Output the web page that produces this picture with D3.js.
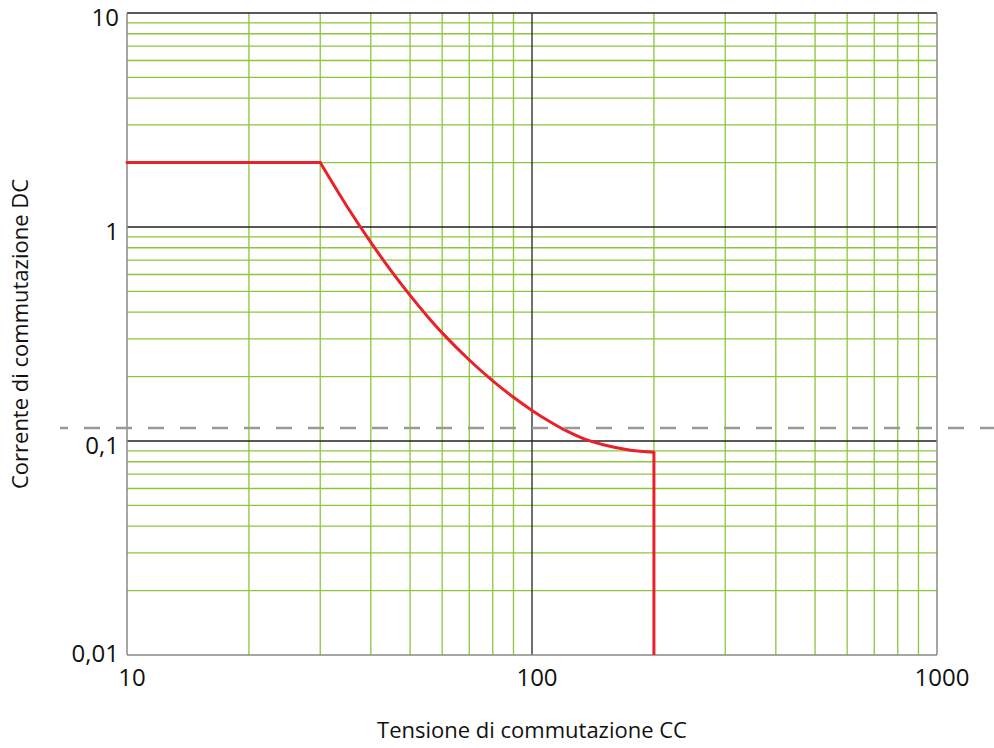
<!DOCTYPE html>
<html>
<head>
<meta charset="utf-8">
<script src="https://cdn.jsdelivr.net/npm/d3@7"></script>
<style>
  body { margin: 0; background: #fff; }
  text { font-family: "Open Sans", sans-serif; fill: #111; }
</style>
</head>
<body>
<script>
// data
var voltage = [10, 30, 35, 40, 45, 50, 55, 60, 70, 80, 90, 100, 110, 120, 135, 150, 175, 200, 200];
var current = [2, 2, 1.24, 0.847, 0.62, 0.479, 0.385, 0.32, 0.239, 0.191, 0.16, 0.139, 0.124, 0.113, 0.102, 0.096, 0.0905, 0.0885, 0.01];
var xDecades = [10, 100, 1000];
var xTickLabels = ["10", "100", "1000"];
var yDecades = [0.01, 0.1, 1, 10];
var yTickLabels = ["0,01", "0,1", "1", "10"];
var threshold = 0.115;

// dimensions and margins
var margin = {top: 13, right: 57, bottom: 93, left: 127},
    W = 994, H = 748,
    width = W - margin.left - margin.right,
    height = H - margin.top - margin.bottom;

var svgRoot = d3.select("body").append("svg")
    .attr("width", W)
    .attr("height", H);

var svg = svgRoot.append("g")
    .attr("transform", "translate(" + margin.left + "," + margin.top + ")");

var x = d3.scaleLog().domain([10, 1000]).range([0, width]);
var y = d3.scaleLog().domain([0.01, 10]).range([height, 0]);

var green = "#8cc63f";

// minor gridlines
svg.append("g")
    .selectAll("line.vx")
    .data(x.ticks().filter(function (d) { return xDecades.indexOf(d) < 0; }))
    .enter().append("line")
    .attr("x1", function (d) { return x(d); })
    .attr("x2", function (d) { return x(d); })
    .attr("y1", 0).attr("y2", height)
    .attr("stroke", green).attr("stroke-width", 1.3);

svg.append("g")
    .selectAll("line.hy")
    .data(y.ticks().filter(function (d) { return yDecades.indexOf(d) < 0; }))
    .enter().append("line")
    .attr("y1", function (d) { return y(d); })
    .attr("y2", function (d) { return y(d); })
    .attr("x1", 0).attr("x2", width)
    .attr("stroke", green).attr("stroke-width", 1.3);

// decade lines
svg.append("line")
    .attr("x1", x(100)).attr("x2", x(100))
    .attr("y1", 0).attr("y2", height)
    .attr("stroke", "#222").attr("stroke-width", 1.3);

svg.append("g")
    .selectAll("line")
    .data([0.1, 1])
    .enter().append("line")
    .attr("y1", function (d) { return y(d); })
    .attr("y2", function (d) { return y(d); })
    .attr("x1", 0).attr("x2", width)
    .attr("stroke", "#222").attr("stroke-width", 1.3);

// frame
svg.append("line").attr("x1", 0).attr("x2", width).attr("y1", 0).attr("y2", 0)
    .attr("stroke", "#222").attr("stroke-width", 1.3);
svg.append("line").attr("x1", 0).attr("x2", width).attr("y1", height).attr("y2", height)
    .attr("stroke", "#888").attr("stroke-width", 1.5);
svg.append("line").attr("x1", 0).attr("x2", 0).attr("y1", 0).attr("y2", height)
    .attr("stroke", "#888").attr("stroke-width", 1.5);
svg.append("line").attr("x1", width).attr("x2", width).attr("y1", 0).attr("y2", height)
    .attr("stroke", "#888").attr("stroke-width", 1.5);

// dashed reference line across the whole figure
svgRoot.append("line")
    .attr("x1", 60).attr("x2", W)
    .attr("y1", margin.top + y(threshold)).attr("y2", margin.top + y(threshold))
    .attr("stroke", "#999").attr("stroke-width", 2.5)
    .attr("stroke-dasharray", "16,16")
    .attr("stroke-dashoffset", 8);

// red limit curve
var pts = voltage.map(function (v, i) { return [v, current[i]]; });
var n = pts.length;

var lineLin = d3.line()
    .x(function (d) { return x(d[0]); })
    .y(function (d) { return y(d[1]); });
var lineSmooth = d3.line()
    .x(function (d) { return x(d[0]); })
    .y(function (d) { return y(d[1]); })
    .curve(d3.curveCatmullRom.alpha(0.5));

var red = svg.append("g")
    .attr("fill", "none")
    .attr("stroke", "#e8212b")
    .attr("stroke-width", 3)
    .attr("stroke-linejoin", "round");

red.append("path").attr("d", lineLin(pts.slice(0, 2))).attr("stroke-linecap", "round");
red.append("path").attr("d", lineSmooth(pts.slice(1, n - 1))).attr("stroke-linecap", "round");
red.append("path").attr("d", lineLin(pts.slice(n - 2)));

// tick labels
svg.append("g")
    .selectAll("text")
    .data(xDecades)
    .enter().append("text")
    .attr("x", function (d) { return x(d) + 5; })
    .attr("y", height + 31)
    .attr("text-anchor", "middle")
    .style("font-size", "24px")
    .text(function (d, i) { return xTickLabels[i]; });

svg.append("g")
    .selectAll("text")
    .data(yDecades)
    .enter().append("text")
    .attr("x", -8)
    .attr("y", function (d) { return y(d) + (d === 0.01 ? 7 : 13); })
    .attr("text-anchor", "end")
    .style("font-size", "24px")
    .text(function (d, i) { return yTickLabels[i]; });

// axis titles
svgRoot.append("text")
    .attr("x", margin.left + width / 2)
    .attr("y", 738)
    .attr("text-anchor", "middle")
    .style("font-size", "22px")
    .text("Tensione di commutazione CC");

svgRoot.append("text")
    .attr("transform", "translate(28," + (margin.top + height / 2) + ") rotate(-90)")
    .attr("text-anchor", "middle")
    .style("font-size", "22px")
    .text("Corrente di commutazione DC");
</script>
</body>
</html>
